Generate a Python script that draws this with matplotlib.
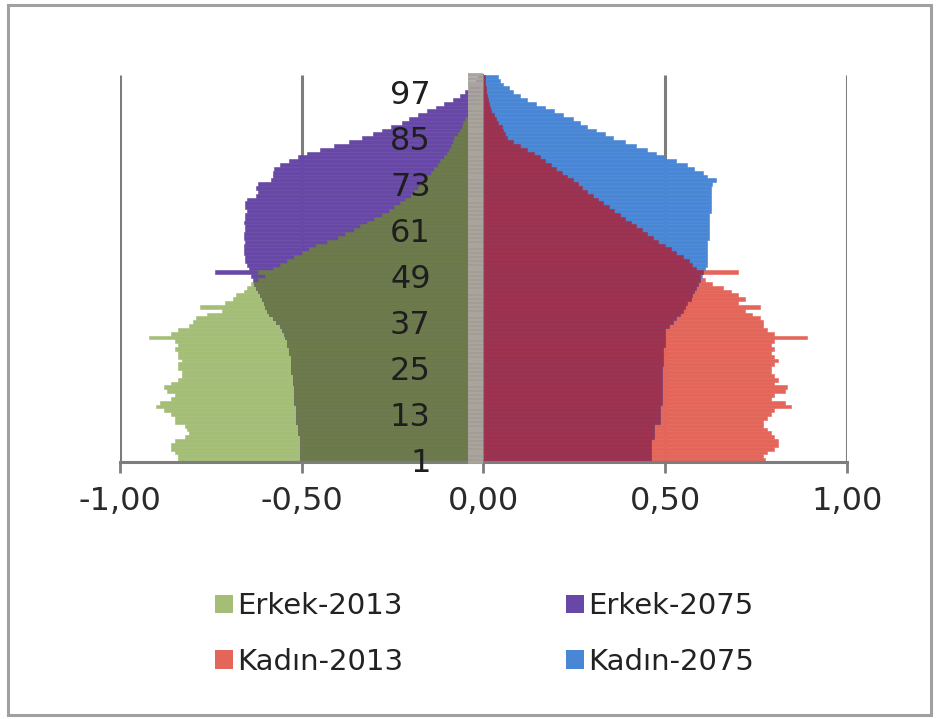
import numpy as np
import matplotlib
matplotlib.use("Agg")
import matplotlib.pyplot as plt
from matplotlib.patches import Patch, Rectangle
from matplotlib.ticker import FixedLocator, FuncFormatter

# Single-year age groups
ages = list(range(1, 102))

# Share of population (%) by single age; men stored as negative values
erkek_2013 = [-v for v in [
    .84, .84, .85, .86, .86, .85, .82, .81, .815, .82,
    .85, .85, .86, .88, .90, .89, .86, .85, .87, .88,
    .86, .84, .83, .83, .84, .84, .83, .84, .84, .85,
    .84, .85, .92, .86, .84, .81, .80, .79, .76, .72,
    .78, .71, .69, .68, .66, .65, .64, .62, .60, .62,
    .58, .56, .54, .52, .50, .48, .46, .43, .40, .38,
    .355, .34, .32, .30, .28, .26, .245, .23, .215, .20,
    .19, .18, .175, .165, .155, .145, .135, .125, .12, .11,
    .10, .095, .09, .085, .08, .07, .065, .06, .055, .05,
    .04, .035, .03, .025, .02, .015, .012, .01, .008, .005,
    .004]]

erkek_2075 = [-v for v in [
    .505, .505, .505, .505, .505, .505, .505, .51, .51, .51,
    .515, .515, .515, .515, .515, .52, .52, .52, .52, .52,
    .525, .525, .525, .53, .53, .53, .53, .53, .535, .535,
    .54, .54, .545, .55, .555, .56, .57, .58, .59, .595,
    .60, .605, .61, .615, .62, .625, .63, .635, .64, .74,
    .645, .65, .655, .655, .66, .66, .66, .655, .66, .66,
    .655, .655, .66, .655, .655, .65, .655, .655, .65, .625,
    .62, .625, .62, .585, .58, .58, .575, .56, .535, .51,
    .485, .45, .41, .37, .335, .305, .28, .255, .225, .205,
    .18, .155, .13, .11, .085, .065, .05, .04, .03, .02,
    .015]]

kadin_2013 = [
    .775, .77, .78, .80, .81, .81, .80, .79, .78, .77,
    .77, .78, .79, .80, .845, .83, .79, .80, .83, .835,
    .80, .81, .80, .79, .79, .80, .81, .80, .79, .80,
    .79, .80, .89, .80, .78, .77, .77, .76, .74, .72,
    .76, .70, .72, .70, .68, .66, .63, .61, .595, .70,
    .585, .575, .565, .55, .53, .515, .50, .48, .465, .45,
    .435, .42, .405, .39, .375, .36, .345, .33, .315, .30,
    .285, .27, .26, .245, .23, .215, .20, .185, .17, .155,
    .14, .12, .10, .08, .065, .06, .055, .05, .04, .035,
    .03, .02, .018, .015, .012, .01, .008, .006, .005, .004,
    .003]

kadin_2075 = [
    .46, .46, .46, .46, .46, .46, .47, .47, .47, .47,
    .485, .485, .485, .485, .485, .49, .49, .49, .49, .49,
    .49, .49, .49, .49, .49, .495, .495, .495, .495, .495,
    .50, .50, .50, .50, .50, .51, .52, .53, .54, .55,
    .555, .56, .57, .575, .58, .585, .59, .595, .60, .605,
    .61, .615, .615, .615, .615, .615, .615, .615, .62, .62,
    .62, .62, .62, .62, .62, .625, .625, .625, .625, .625,
    .625, .625, .63, .64, .615, .605, .58, .56, .53, .50,
    .475, .45, .42, .39, .355, .335, .31, .285, .265, .245,
    .22, .195, .17, .145, .12, .10, .08, .07, .055, .045,
    .04]

series_labels = ["Erkek-2013", "Erkek-2075", "Kadın-2013", "Kadın-2075"]
x_ticks = [-1.0, -0.5, 0.0, 0.5, 1.0]
y_label_ages = [1, 13, 25, 37, 49, 61, 73, 85, 97]

# Colours: each series, plus the shade where the two years overlap
c_e13, c_e75, c_e_both = "#A4BE78", "#6748A6", "#6C7A4C"
c_k13, c_k75, c_k_both = "#E4665B", "#4987D6", "#9D3250"
series_colors = [c_e13, c_e75, c_k13, c_k75]

fig = plt.figure(figsize=(9.39, 7.19), dpi=100)
ax = fig.add_axes([0.1278, 0.3574, 0.7742, 0.5383])

y = np.array(ages)
e13, e75 = np.array(erkek_2013), np.array(erkek_2075)
k13, k75 = np.array(kadin_2013), np.array(kadin_2075)

bar_kw = dict(height=1.0, linewidth=0.4)
# vertical gridlines behind the bars
ax.vlines(x_ticks, 0.5, len(ages) + 0.5, colors="#7d7d7d", linewidth=2.2, zorder=0)

ax.barh(y, e13, color=c_e13, edgecolor=c_e13, zorder=1, **bar_kw)
ax.barh(y, e75, color=c_e75, edgecolor=c_e75, zorder=1, **bar_kw)
ax.barh(y, np.maximum(e13, e75), color=c_e_both, edgecolor=c_e_both, zorder=1.1, **bar_kw)

ax.barh(y, k13, color=c_k13, edgecolor=c_k13, zorder=1, **bar_kw)
ax.barh(y, k75, color=c_k75, edgecolor=c_k75, zorder=1, **bar_kw)
ax.barh(y, np.minimum(k13, k75), color=c_k_both, edgecolor=c_k_both, zorder=1.1, **bar_kw)

ax.set_xlim(x_ticks[0], x_ticks[-1])
ax.set_ylim(0.5, len(ages) + 0.5)
ax.set_axisbelow(False)

# axes lines
for side in ("top", "right"):
    ax.spines[side].set_visible(False)
ax.spines["left"].set_position(("data", 0))
ax.spines["left"].set_color("#808080")
ax.spines["left"].set_linewidth(1.5)
ax.spines["bottom"].set_color("#7d7d7d")
ax.spines["bottom"].set_linewidth(2.2)

# x axis
ax.set_xticks(x_ticks)
ax.xaxis.set_major_formatter(FuncFormatter(lambda v, p: f"{v:.2f}".replace(".", ",")))
ax.tick_params(axis="x", direction="out", length=8, width=2, color="#7d7d7d",
               labelsize=23, labelcolor="#2a2a2a", pad=9)

# y axis: a tick mark between every age, labels every 12 years
ax.set_yticks(y_label_ages)
ax.set_yticklabels([str(a) for a in y_label_ages])
ax.yaxis.set_minor_locator(FixedLocator([a - 0.5 for a in ages] + [ages[-1] + 0.5]))
ax.tick_params(axis="y", which="major", length=0, labelsize=23, labelcolor="#1e1e1e", pad=38)
ax.tick_params(axis="y", which="minor", direction="out", length=11, width=2.7, color="#aaa49f")

for t in ax.get_xticklabels() + ax.get_yticklabels():
    t.set_fontfamily("DejaVu Sans")

# legend filled column-wise: men in the first row, women in the second
order = [0, 2, 1, 3]
handles = [Patch(facecolor=series_colors[i]) for i in order]
labels = [series_labels[i] for i in order]
fig.legend(handles, labels, ncol=2, loc="center", bbox_to_anchor=(0.516, 0.118),
           frameon=False, fontsize=21, handlelength=0.62, handleheight=0.62,
           handletextpad=0.12, columnspacing=5.6, labelspacing=0.95,
           labelcolor="#222222")

# outer chart frame
fig.patches.append(Rectangle((0.009, 0.006), 0.982, 0.987, transform=fig.transFigure,
                             fill=False, edgecolor="#a0a0a0", linewidth=2.2))

fig.savefig("out.png", dpi=100)
